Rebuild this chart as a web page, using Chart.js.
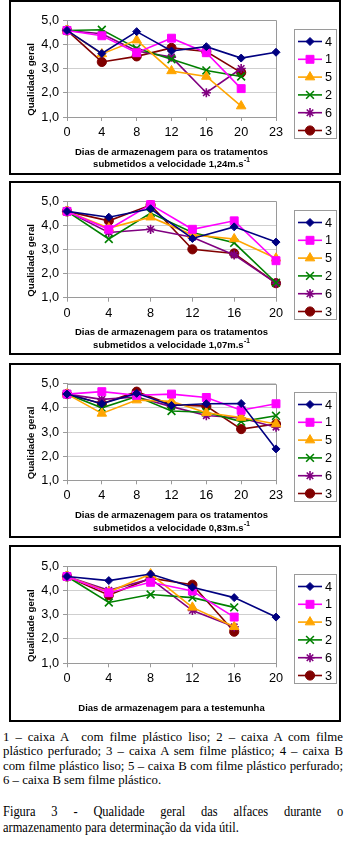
<!DOCTYPE html>
<html><head><meta charset="utf-8">
<script src="https://cdn.jsdelivr.net/npm/chart.js@4/dist/chart.umd.min.js"></script>
<style>
html,body{margin:0;padding:0;background:#fff;}
body{width:350px;height:845px;position:relative;overflow:hidden;}
.box{position:absolute;left:9px;width:332px;border:2px solid #000;box-sizing:border-box;background:#fff;}
.box canvas{display:block;}
.txt{position:absolute;left:3px;font-family:"Liberation Serif","Times New Roman",serif;color:#000;}
.txt div{white-space:nowrap;}
.j{text-align:justify;text-align-last:justify;}
.cap{transform:scaleX(0.83);transform-origin:0 0;width:410px;}
</style></head><body>
<div class="box" style="top:0px;height:175px"><canvas id="c1" width="328" height="171"></canvas></div>
<div class="box" style="top:181px;height:174px"><canvas id="c2" width="328" height="170"></canvas></div>
<div class="box" style="top:363px;height:175px"><canvas id="c3" width="328" height="171"></canvas></div>
<div class="box" style="top:545px;height:177px"><canvas id="c4" width="328" height="173"></canvas></div>
<div class="txt" style="top:730px;width:340px;font-size:12.8px;line-height:14.4px">
<div class="j">1 – caixa A&nbsp; com filme plástico liso; 2 – caixa A com filme</div>
<div class="j">plástico perfurado; 3 – caixa A sem filme plástico; 4 – caixa B</div>
<div class="j">com filme plástico liso; 5 – caixa B com filme plástico perfurado;</div>
<div>6 – caixa B sem filme plástico.</div>
</div>
<div class="txt cap" style="top:803px;font-size:15px;line-height:16px">
<div class="j">Figura 3 - Qualidade geral das alfaces durante o</div>
<div>armazenamento para determinação da vida útil.</div>
</div>
<script>
// ---- labels ----
const seriesNames = ['4','1','5','2','6','3'];
const days7 = ['0','4','8','12','16','20','23'];
const days6 = ['0','4','8','12','16','20'];
const yTitle = 'Qualidade geral';
// '^' marks the start of a superscript
const xTitle1 = ['Dias de armazenagem para os tratamentos','submetidos a velocidade 1,24m.s^-1'];
const xTitle2 = ['Dias de armazenagem para os tratamentos','submetidos a velocidade 1,07m.s^-1'];
const xTitle3 = ['Dias de armazenagem para os tratamentos','submetidos a velocidade 0,83m.s^-1'];
const xTitle4 = ['Dias de armazenagem para a testemunha'];

// ---- chart 1 (1,24 m/s) ----
const c1_s4 = [4.57, 3.62, 4.52, 3.72, 3.90, 3.43, 3.67];
const c1_s1 = [4.57, 4.35, 3.65, 4.25, 3.65, 2.17, null];
const c1_s5 = [4.57, 3.60, 4.17, 2.90, 2.67, 1.45, null];
const c1_s2 = [4.57, 4.60, 3.83, 3.38, 2.92, 2.67, null];
const c1_s6 = [4.57, 4.43, 3.72, 3.47, 2.00, 3.00, null];
const c1_s3 = [4.57, 3.27, 3.50, 3.85, 3.70, 2.83, null];
// ---- chart 2 (1,07 m/s) ----
const c2_s4 = [4.57, 4.33, 4.68, 3.45, 3.93, 3.30];
const c2_s1 = [4.57, 3.83, 4.85, 3.83, 4.18, 2.53];
const c2_s5 = [4.57, 3.88, 4.33, 3.60, 3.43, 2.63];
const c2_s2 = [4.57, 3.43, 4.50, 3.70, 3.27, 1.62];
const c2_s6 = [4.57, 3.70, 3.83, 3.50, 2.77, 1.60];
const c2_s3 = [4.57, 4.18, 4.83, 3.00, 2.83, 1.60];
// ---- chart 3 (0,83 m/s) ----
const c3_s4 = [4.57, 4.17, 4.60, 4.10, 4.17, 4.18, 2.30];
const c3_s1 = [4.57, 4.67, 4.52, 4.57, 4.43, 3.90, 4.17];
const c3_s5 = [4.57, 3.77, 4.32, 4.27, 3.80, 3.60, 3.33];
const c3_s2 = [4.57, 4.00, 4.47, 3.87, 3.82, 3.43, 3.67];
const c3_s6 = [4.57, 4.35, 4.45, 4.05, 3.68, 3.58, 3.20];
const c3_s3 = [4.57, 4.17, 4.67, 4.13, 4.07, 3.12, 3.33];
// ---- chart 4 (testemunha) ----
const c4_s4 = [4.57, 4.40, 4.67, 4.13, 3.70, 2.90];
const c4_s1 = [4.57, 3.90, 4.33, 3.97, 2.90, null];
const c4_s5 = [4.57, 3.93, 4.67, 3.30, 2.50, null];
const c4_s2 = [4.57, 3.50, 3.83, 3.70, 3.30, null];
const c4_s6 = [4.57, 4.00, 4.47, 3.17, 2.50, null];
const c4_s3 = [4.57, 3.80, 4.50, 4.23, 2.30, null];

// ---- styles ----
const styles = [
  {color:'#000080', pointStyle:'rectRot', r:4},
  {color:'#FF00FF', pointStyle:'rect', r:5.6},
  {color:'#FFA500', pointStyle:'triangle', r:5.5},
  {color:'#008000', pointStyle:'crossRot', r:5.5},
  {color:'#800080', pointStyle:'star', r:4.6},
  {color:'#800000', pointStyle:'circle', r:4.6}
];
const SANS = '"Liberation Sans", Arial, sans-serif';

const framePlugin = {
  id:'frame',
  beforeDatasetsDraw(chart){
    const {ctx, chartArea:a} = chart;
    ctx.save();
    ctx.strokeStyle = '#9a9a9a'; ctx.lineWidth = 1;
    ctx.beginPath();
    ctx.moveTo(Math.round(a.left)+0.5, Math.round(a.top)+0.5);
    ctx.lineTo(Math.round(a.right)+0.5, Math.round(a.top)+0.5);
    ctx.lineTo(Math.round(a.right)+0.5, Math.round(a.bottom)+0.5);
    ctx.stroke();
    ctx.restore();
  },
  afterDraw(chart, args, opts){
    const {ctx, chartArea:a} = chart;
    // y title
    ctx.save();
    ctx.translate(20, (a.top + a.bottom)/2 + 11);
    ctx.rotate(-Math.PI/2);
    ctx.font = 'bold 9.7px ' + SANS;
    ctx.fillStyle = '#000'; ctx.textAlign = 'center'; ctx.textBaseline = 'middle';
    ctx.fillText(yTitle, 0, 0);
    ctx.restore();
    // x title lines
    ctx.save();
    ctx.fillStyle = '#000'; ctx.textBaseline = 'middle'; ctx.textAlign = 'left';
    const cx = (a.left + a.right) / 2;
    opts.lines.forEach((line, i) => {
      const parts = line.split('^');
      const main = parts[0], sup = parts[1] || '';
      ctx.font = 'bold 9.5px ' + SANS;
      const wMain = ctx.measureText(main).width;
      ctx.font = 'bold 6.5px ' + SANS;
      const wSup = sup ? ctx.measureText(sup).width + 0.5 : 0;
      const x = cx - (wMain + wSup) / 2;
      const y = opts.ys[i];
      ctx.font = 'bold 9.5px ' + SANS;
      ctx.fillText(main, x, y);
      if (sup) { ctx.font = 'bold 6.5px ' + SANS; ctx.fillText(sup, x + wMain + 0.5, y - 4); }
    });
    ctx.restore();
    // legend box
    ctx.save();
    const x0 = Math.round(a.right) + 18, y0 = 27, w = 42, h = 109;
    ctx.strokeStyle = '#9a9a9a'; ctx.lineWidth = 1;
    ctx.strokeRect(x0 + 0.5, y0 + 0.5, w, h);
    chart.data.datasets.forEach((ds, i) => {
      const y = y0 + 12.5 + i * 17.8;
      ctx.strokeStyle = ds.borderColor; ctx.lineWidth = ds.borderWidth;
      ctx.beginPath(); ctx.moveTo(x0 + 4, y); ctx.lineTo(x0 + 28, y); ctx.stroke();
      ctx.fillStyle = ds.pointBackgroundColor; ctx.strokeStyle = ds.pointBorderColor;
      ctx.lineWidth = ds.pointBorderWidth;
      Chart.helpers.drawPoint(ctx, {pointStyle: ds.pointStyle, radius: ds.pointRadius, borderWidth: ds.pointBorderWidth, rotation: 0}, x0 + 16, y);
      ctx.fillStyle = '#000'; ctx.font = '12.7px ' + SANS;
      ctx.textAlign = 'left'; ctx.textBaseline = 'middle';
      ctx.fillText(ds.label, x0 + 31, y + 0.5);
    });
    ctx.restore();
  }
};

function makeChart(id, labels, seriesData, xTitle, titleYs, plotTop, plotBottom){
  const canvas = document.getElementById(id);
  const H = canvas.height;
  const datasets = seriesData.map((d, i) => ({
    label: seriesNames[i],
    data: d,
    borderColor: styles[i].color,
    backgroundColor: styles[i].color,
    pointBackgroundColor: styles[i].color,
    pointBorderColor: styles[i].color,
    pointBorderWidth: (styles[i].pointStyle === 'crossRot' || styles[i].pointStyle === 'star') ? 1.6 : 1,
    pointStyle: styles[i].pointStyle,
    pointRadius: styles[i].r,
    borderWidth: 1.6,
    tension: 0,
    spanGaps: false,
    clip: false
  }));
  return new Chart(canvas, {
    type: 'line',
    data: {labels, datasets},
    plugins: [framePlugin],
    options: {
      responsive: false,
      animation: false,
      devicePixelRatio: 1,
      layout: {padding: {top: plotTop, right: 63, left: 0, bottom: 0}},
      plugins: {legend: {display: false}, tooltip: {enabled: false}, frame: {lines: xTitle, ys: titleYs}},
      scales: {
        x: {
          type: 'category',
          offset: false,
          grid: {display: true, drawOnChartArea: false, drawTicks: true, tickLength: 4, color: '#9a9a9a', tickColor: '#9a9a9a'},
          border: {display: true, color: '#9a9a9a'},
          ticks: {color: '#000', font: {family: SANS, size: 12.7}, padding: 4, maxRotation: 0, autoSkip: false},
          title: {display: false},
          afterFit: (s) => { s.height = H - plotBottom; }
        },
        y: {
          min: 1, max: 5,
          grid: {color: '#cfcfcf', tickColor: '#9a9a9a', tickLength: 4, drawTicks: true},
          border: {display: true, color: '#9a9a9a'},
          ticks: {stepSize: 1, color: '#000', font: {family: SANS, size: 12.7}, padding: 4,
                  callback: (v) => Number(v).toFixed(1).replace('.', ',')},
          afterFit: (s) => { s.width = 56; }
        }
      }
    }
  });
}

makeChart('c1', days7, [c1_s4, c1_s1, c1_s5, c1_s2, c1_s6, c1_s3], xTitle1, [150, 162.5], 18, 115);
makeChart('c2', days6, [c2_s4, c2_s1, c2_s5, c2_s2, c2_s6, c2_s3], xTitle2, [149, 162], 18, 114.7);
makeChart('c3', days7, [c3_s4, c3_s1, c3_s5, c3_s2, c3_s6, c3_s3], xTitle3, [150, 163], 18.7, 115.3);
makeChart('c4', days6, [c4_s4, c4_s1, c4_s5, c4_s2, c4_s6, c4_s3], xTitle4, [161], 19, 116.3);
</script>
</body></html>
